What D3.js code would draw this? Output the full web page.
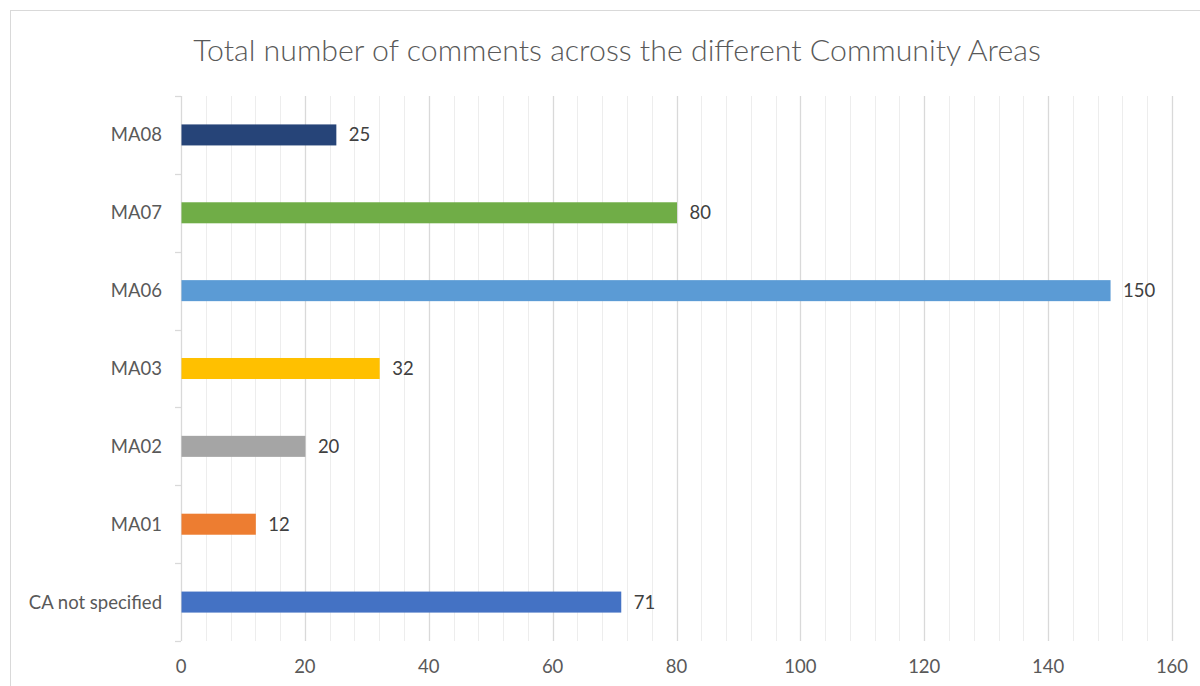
<!DOCTYPE html>
<html>
<head>
<meta charset="utf-8">
<script src="https://cdn.jsdelivr.net/npm/d3@7"></script>
<style>
  html, body { margin: 0; padding: 0; background: #fff; }
  svg { display: block; }
</style>
</head>
<body>
<svg id="chart" width="1200" height="686"></svg>
<script>
// Chart data
const categories = ["MA08", "MA07", "MA06", "MA03", "MA02", "MA01", "CA not specified"];
const values = [25, 80, 150, 32, 20, 12, 71];
const barColors = ["#264478", "#70AD47", "#5B9BD5", "#FFC000", "#A5A5A5", "#ED7D31", "#4472C4"];
const xTicks = [0, 20, 40, 60, 80, 100, 120, 140, 160];
const chartTitle = "Total number of comments across the different Community Areas";

const svg = d3.select("#chart");
const W = 1200, H = 686;
const fontFam = "Lato, 'Open Sans', 'Noto Sans', sans-serif";
const labelSize = 18.5;

// Outer chart frame
svg.append("rect")
  .attr("x", 10.5).attr("y", 10.5)
  .attr("width", W + 20).attr("height", H + 20)
  .attr("fill", "#fff").attr("stroke", "#d9d9d9").attr("stroke-width", 1);

const plot = { left: 181, right: 1172, top: 96, bottom: 641 };

const x = d3.scaleLinear().domain([0, 160]).range([plot.left, plot.right]);
const y = d3.scaleBand().domain(categories).range([plot.top, plot.bottom]).paddingInner(0.73).paddingOuter(0.365);
const yBand = d3.scaleBand().domain(categories).range([plot.top, plot.bottom]);

// Minor gridlines every 4 units
const minor = d3.range(4, 161, 4).filter(v => v % 20 !== 0);
svg.append("g").selectAll("line").data(minor).join("line")
  .attr("x1", d => Math.round(x(d)) + 0.5).attr("x2", d => Math.round(x(d)) + 0.5)
  .attr("y1", plot.top).attr("y2", plot.bottom)
  .attr("stroke", "#ededed").attr("stroke-width", 1);

// Major gridlines
svg.append("g").selectAll("line").data(xTicks.slice(1)).join("line")
  .attr("x1", d => Math.round(x(d)) + 0.5).attr("x2", d => Math.round(x(d)) + 0.5)
  .attr("y1", plot.top).attr("y2", plot.bottom)
  .attr("stroke", "#d9d9d9").attr("stroke-width", 1.3);

// Category axis line with ticks at band boundaries
const yAxisG = svg.append("g");
yAxisG.append("line")
  .attr("x1", plot.left + 0.5).attr("x2", plot.left + 0.5)
  .attr("y1", plot.top).attr("y2", plot.bottom)
  .attr("stroke", "#d9d9d9").attr("stroke-width", 1.3);
const boundaries = categories.map(c => yBand(c)).concat([plot.bottom]);
yAxisG.selectAll("line.tk").data(boundaries).join("line")
  .attr("class", "tk")
  .attr("x1", plot.left - 6).attr("x2", plot.left)
  .attr("y1", d => Math.round(d) + 0.5).attr("y2", d => Math.round(d) + 0.5)
  .attr("stroke", "#d9d9d9").attr("stroke-width", 1.3);

// Category labels
svg.append("g").selectAll("text").data(categories).join("text")
  .attr("x", 162)
  .attr("y", d => yBand(d) + yBand.bandwidth() / 2)
  .attr("dy", "0.35em")
  .attr("text-anchor", "end")
  .attr("font-family", fontFam).attr("font-size", labelSize)
  .attr("fill", "#595959")
  .text(d => d);

// Value axis labels
svg.append("g").selectAll("text").data(xTicks).join("text")
  .attr("x", d => x(d))
  .attr("y", 667)
  .attr("dy", "0.35em")
  .attr("text-anchor", "middle")
  .attr("font-family", fontFam).attr("font-size", labelSize)
  .attr("fill", "#595959")
  .text(d => d);

// Bars
svg.append("g").selectAll("rect").data(categories).join("rect")
  .attr("x", x(0) + 0.5)
  .attr("y", d => y(d))
  .attr("width", (d, i) => x(values[i]) - x(0))
  .attr("height", y.bandwidth())
  .attr("fill", (d, i) => barColors[i]);

// Value labels
svg.append("g").selectAll("text").data(categories).join("text")
  .attr("x", (d, i) => x(values[i]) + 13)
  .attr("y", d => y(d) + y.bandwidth() / 2)
  .attr("dy", "0.35em")
  .attr("font-family", fontFam).attr("font-size", labelSize)
  .attr("fill", "#404040")
  .text((d, i) => values[i]);

// Title
svg.append("text")
  .attr("x", 617).attr("y", 50)
  .attr("dy", "0.35em")
  .attr("text-anchor", "middle")
  .attr("font-family", fontFam).attr("font-size", 30.3).attr("font-weight", 300)
  .attr("fill", "#595959")
  .text(chartTitle);
</script>
</body>
</html>
